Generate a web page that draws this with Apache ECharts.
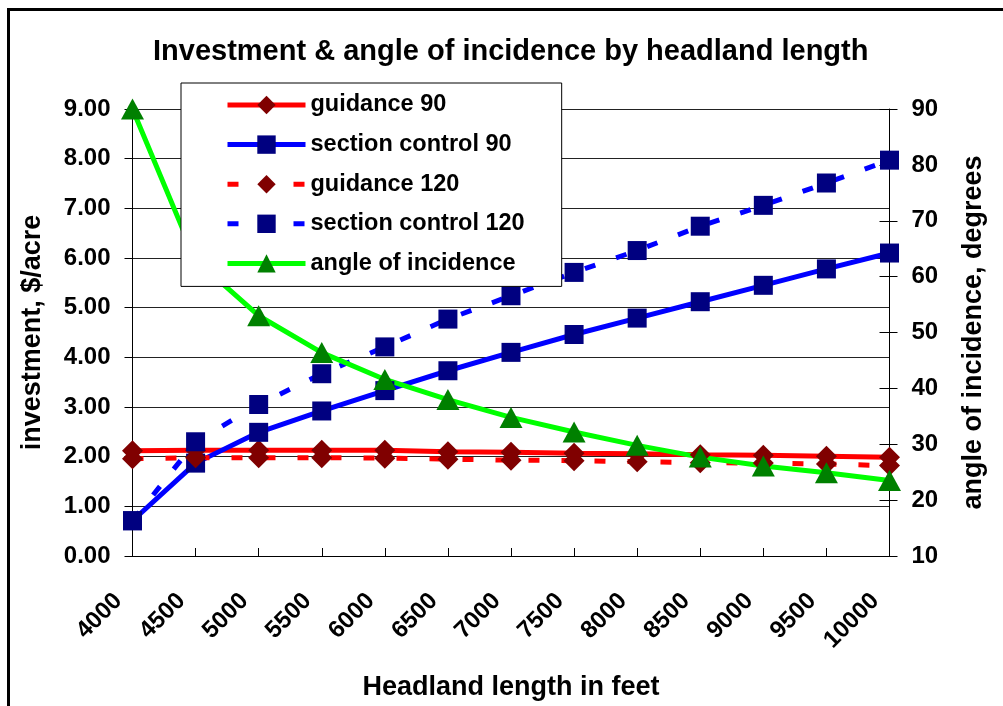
<!DOCTYPE html>
<html>
<head>
<meta charset="utf-8">
<script src="https://cdn.jsdelivr.net/npm/echarts@6/dist/echarts.min.js"></script>
<style>
  html, body { margin: 0; padding: 0; background: #fff; }
  #chart { width: 1003px; height: 706px; }
</style>
</head>
<body>
<div id="chart"></div>
<script>
const categories = ['4000','4500','5000','5500','6000','6500','7000','7500','8000','8500','9000','9500','10000'];
const guidance90 = [2.12, 2.13, 2.13, 2.13, 2.13, 2.10, 2.09, 2.07, 2.06, 2.04, 2.03, 2.01, 1.99];
const sectionControl90 = [0.71, 1.87, 2.49, 2.92, 3.33, 3.73, 4.10, 4.46, 4.79, 5.12, 5.45, 5.78, 6.10];
const guidance120 = [1.96, 1.98, 1.98, 1.98, 1.97, 1.95, 1.93, 1.92, 1.90, 1.88, 1.87, 1.85, 1.82];
const sectionControl120 = [0.71, 2.30, 3.05, 3.67, 4.21, 4.77, 5.24, 5.71, 6.15, 6.64, 7.06, 7.51, 7.97];
const angleOfIncidence = [90, 63, 53, 46.4, 41.6, 38.0, 34.8, 32.2, 29.8, 27.7, 26.1, 24.9, 23.5];

const FONT = "'Liberation Sans', Arial, sans-serif";
const chart = echarts.init(document.getElementById('chart'));

function lineSeries(name, data, color, dashed, symbol, size, symColor, yIdx) {
  return {
    name: name, type: 'line', data: data, yAxisIndex: yIdx || 0,
    symbol: symbol, symbolSize: size, showAllSymbol: true,
    lineStyle: { color: color, width: 5, type: dashed ? [11, 22] : 'solid', cap: 'butt' },
    itemStyle: { color: symColor, borderColor: symColor, borderWidth: 0 },
    emphasis: { disabled: true },
    animation: false
  };
}

chart.setOption({
  backgroundColor: '#ffffff',
  animation: false,
  title: {
    text: 'Investment & angle of incidence by headland length',
    left: 153, top: 37, padding: 0,
    textStyle: { fontFamily: FONT, fontWeight: 'bold', fontSize: 29, color: '#000' }
  },
  graphic: [
    { type: 'rect', silent: true,
      shape: { x: 8.5, y: 9.5, width: 1030, height: 740 },
      style: { fill: 'none', stroke: '#000', lineWidth: 3 } }
  ],
  legend: {
    orient: 'vertical', left: 181, top: 83, padding: [10, 37, 11, 44],
    backgroundColor: '#fff', borderColor: '#000', borderWidth: 1, borderRadius: 0,
    itemWidth: 78, itemHeight: 23, itemGap: 15.6, z: 4,
    lineStyle: { width: 5 },
    textStyle: { fontFamily: FONT, fontWeight: 'bold', fontSize: 23.5, color: '#000' },
    data: ['guidance 90', 'section control 90', 'guidance 120', 'section control 120', 'angle of incidence']
  },
  grid: { left: 132.5, right: 113.5, top: 109, bottom: 148.5, containLabel: false },
  xAxis: {
    type: 'category', data: categories, boundaryGap: false,
    name: 'Headland length in feet', nameLocation: 'middle', nameGap: 118,
    nameTextStyle: { fontFamily: FONT, fontWeight: 'bold', fontSize: 27, color: '#000', verticalAlign: 'top' },
    axisLine: { lineStyle: { color: '#000', width: 1 } },
    axisTick: { show: true, inside: true, length: 8, alignWithLabel: true, lineStyle: { color: '#000' } },
    axisLabel: { rotate: 45, margin: 27, padding: [0, 20, 0, 0], interval: 0, fontFamily: FONT, fontWeight: 'bold', fontSize: 24, color: '#000' },
    splitLine: { show: false }
  },
  yAxis: [
    {
      type: 'value', min: 0, max: 9, interval: 1, position: 'left',
      name: 'investment, $/acre', nameLocation: 'middle', nameGap: 86, nameRotate: 90,
      nameTextStyle: { fontFamily: FONT, fontWeight: 'bold', fontSize: 27, color: '#000' },
      axisLine: { show: true, lineStyle: { color: '#000', width: 1 } },
      axisTick: { show: true, length: 8, lineStyle: { color: '#000' } },
      axisLabel: { margin: 22, fontFamily: FONT, fontWeight: 'bold', fontSize: 24, color: '#000',
                   formatter: v => v.toFixed(2) },
      splitLine: { show: true, lineStyle: { color: '#222', width: 1 } }
    },
    {
      type: 'value', min: 10, max: 90, interval: 10, position: 'right',
      name: 'angle of incidence, degrees', nameLocation: 'middle', nameGap: 71, nameRotate: 90,
      nameTextStyle: { fontFamily: FONT, fontWeight: 'bold', fontSize: 27, color: '#000' },
      axisLine: { show: true, lineStyle: { color: '#000', width: 1 } },
      axisTick: { show: true, length: 8, lineStyle: { color: '#000' } },
      axisLabel: { margin: 22, fontFamily: FONT, fontWeight: 'bold', fontSize: 24, color: '#000' },
      splitLine: { show: false }
    },
    {
      type: 'value', min: 10, max: 90, interval: 10, position: 'right',
      axisLine: { show: false },
      axisTick: { show: true, inside: true, length: 10, lineStyle: { color: '#000' } },
      axisLabel: { show: false },
      splitLine: { show: false }
    }
  ],
  series: [
    lineSeries('guidance 90', guidance90, '#ff0000', false, 'diamond', 21, '#800000'),
    lineSeries('section control 90', sectionControl90, '#0000ff', false, 'rect', 19, '#000080'),
    lineSeries('guidance 120', guidance120, '#ff0000', true, 'diamond', 21, '#800000'),
    lineSeries('section control 120', sectionControl120, '#0000ff', true, 'rect', 19, '#000080'),
    lineSeries('angle of incidence', angleOfIncidence, '#00ff00', false, 'triangle', [23, 21], '#008000', 1)
  ]
});
</script>
</body>
</html>
